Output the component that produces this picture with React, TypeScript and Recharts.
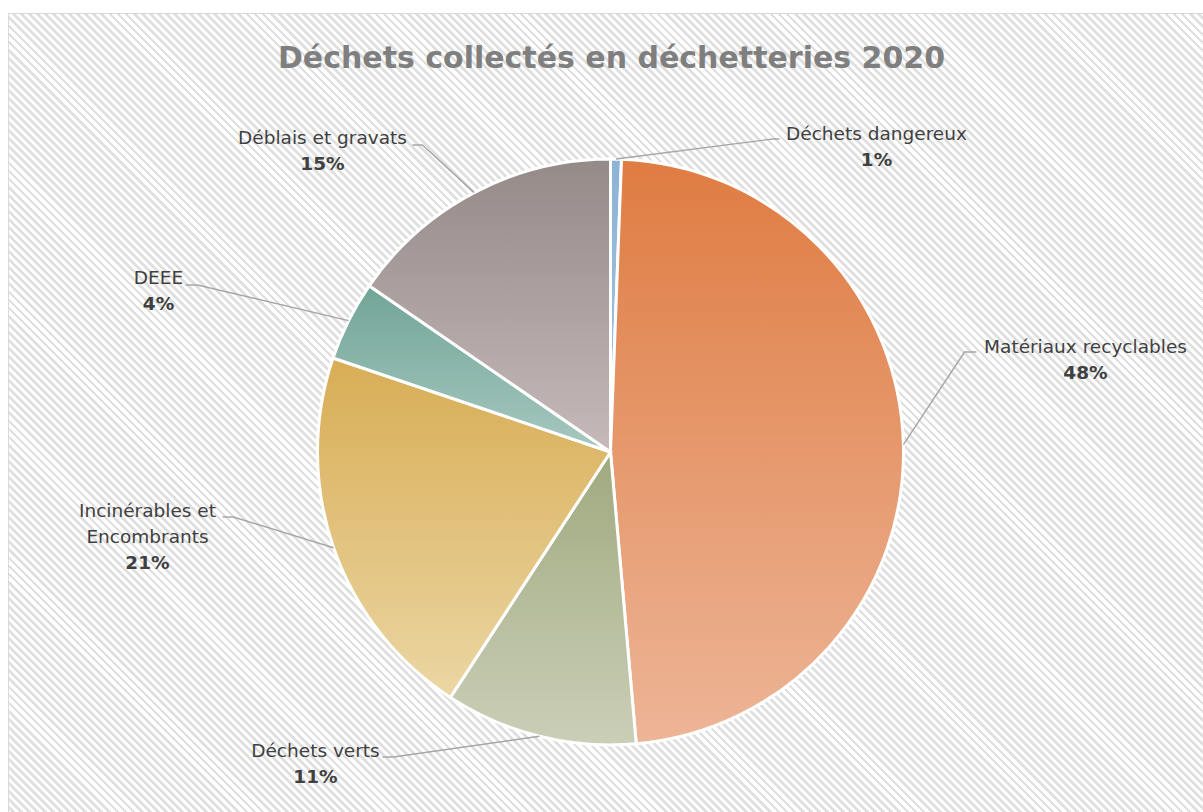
import React from 'react';
import { PieChart, Pie, Cell } from 'recharts';

// categories, clockwise from 12 o'clock
const CATEGORIES = [
    'Déchets dangereux',
    'Matériaux recyclables',
    'Déchets verts',
    'Incinérables et\nEncombrants',
    'DEEE',
    'Déblais et gravats',
];
// share of the total (%)
const VALUES = [0.6, 48.0, 10.6, 21.0, 4.4, 15.4];

const GRADIENTS = [
    ['#8DB3D7', '#A6C4E0'],
    ['#DF7C42', '#EDB597'],
    ['#9FA97E', '#CBCFB8'],
    ['#D8AD55', '#EBD6A3'],
    ['#71A597', '#A7C8C0'],
    ['#948A88', '#C5BAB9'],
];

// label placement relative to the pie centre: elbow, tail length, text centre
const LABEL_LAYOUT = [
    { ex: 162, ey: -313, tail: 7, tx: 266, ty: -319 },
    { ex: 354, ey: -100, tail: 12, tx: 475, ty: -106 },
    { ex: -217, ey: 305, tail: -11, tx: -295, ty: 298 },
    { ex: -377, ey: 65, tail: -11, tx: -463, ty: 58 },
    { ex: -413, ey: -167, tail: -12, tx: -452, ty: -175 },
    { ex: -188, ey: -307, tail: -10, tx: -288, ty: -315 },
];

const data = CATEGORIES.map((name, i) => ({ name, value: VALUES[i] }));

const RAD = Math.PI / 180;
const FONT = '"DejaVu Sans", sans-serif';

const renderLabel = (props: any) => {
    const { cx, cy, midAngle, outerRadius, index, percent } = props;
    const lay = LABEL_LAYOUT[index];
    const ax = cx + outerRadius * Math.cos(-midAngle * RAD);
    const ay = cy + outerRadius * Math.sin(-midAngle * RAD);
    const ex = cx + lay.ex;
    const ey = cy + lay.ey;
    const lines = CATEGORIES[index].split('\n');
    const tx = cx + lay.tx;
    const ty = cy + lay.ty;
    return (
        <g key={`lbl-${index}`}>
            <polyline
                points={`${ax},${ay} ${ex},${ey} ${ex + lay.tail},${ey}`}
                fill="none"
                stroke="#A6A6A6"
                strokeWidth={1.4}
            />
            {lines.map((l, j) => (
                <text key={j} x={tx} y={ty + j * 26} dy="0.36em" textAnchor="middle" fontFamily={FONT} fontSize={18.5} fill="#404040">
                    {l}
                </text>
            ))}
            <text x={tx} y={ty + lines.length * 26} dy="0.36em" textAnchor="middle" fontFamily={FONT} fontSize={18.5} fontWeight="bold" fill="#404040">
                {`${Math.round(percent * 100)}%`}
            </text>
        </g>
    );
};

export default function App() {
    return (
        <div>
            <style>{`html,body{margin:0;overflow:hidden;background:#fff}`}</style>
            <div
                style={{
                    position: 'absolute',
                    left: 8,
                    top: 13,
                    width: 1200,
                    height: 800,
                    border: '1px solid #D9D9D9',
                    background: 'repeating-linear-gradient(45deg, #ffffff 0px, #ffffff 3px, #E0E0E0 3px, #E0E0E0 5.7px)',
                }}
            >
                <div
                    style={{
                        position: 'absolute',
                        left: 0,
                        top: 26,
                        width: 1205,
                        textAlign: 'center',
                        fontFamily: FONT,
                        fontWeight: 'bold',
                        fontSize: 30,
                        color: '#7F7F7F',
                    }}
                >
                    Déchets collectés en déchetteries 2020
                </div>
                <div style={{ position: 'absolute', left: 0, top: 0 }}>
                    <PieChart width={1200} height={800} margin={{ top: 0, right: 0, bottom: 0, left: 0 }}>
                        <defs>
                            {GRADIENTS.map((g, i) => (
                                <linearGradient key={i} id={`grad${i}`} x1="0" y1="0" x2="0" y2="1">
                                    <stop offset="0%" stopColor={g[0]} />
                                    <stop offset="100%" stopColor={g[1]} />
                                </linearGradient>
                            ))}
                        </defs>
                        <Pie
                            data={data}
                            dataKey="value"
                            nameKey="name"
                            cx={601.5}
                            cy={438}
                            outerRadius={293}
                            startAngle={90}
                            endAngle={-270}
                            stroke="#FFFFFF"
                            strokeWidth={3}
                            label={renderLabel}
                            labelLine={false}
                            isAnimationActive={false}
                        >
                            {data.map((entry, i) => (
                                <Cell key={`cell-${i}`} fill={`url(#grad${i})`} />
                            ))}
                        </Pie>
                    </PieChart>
                </div>
            </div>
        </div>
    );
}
